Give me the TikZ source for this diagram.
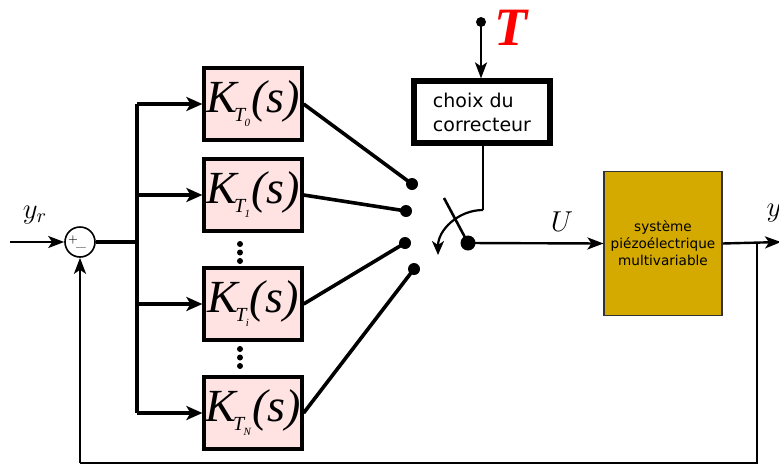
\documentclass[tikz,border=0pt]{standalone}
\usepackage{fontspec}
\setsansfont{DejaVu Sans}
\newfontfamily\tmsfont{Liberation Serif}
\usepackage{tikz}
\usetikzlibrary{arrows.meta, positioning, calc}
\definecolor{blocpink}{HTML}{FFE2E2}
\definecolor{plantgold}{HTML}{D4AA00}
\definecolor{tred}{HTML}{FF0000}
\newcommand{\ktrans}[1]{{\tmsfont\itshape\fontsize{23}{23}\selectfont K\kern-1.5pt\raisebox{-4.5pt}{\fontsize{10}{10}\selectfont T\kern-0.3pt\raisebox{-2.5pt}{\fontsize{5.5}{5.5}\selectfont #1}}\kern0.5pt(s)}}

\begin{document}
\begin{tikzpicture}[x=0.5pt, y=-0.5pt,
    bloc/.style={rectangle, draw=black, line width=1.6pt, fill=blocpink,
                 minimum width=49pt, minimum height=36pt, inner sep=0pt},
    contact/.style={circle, fill=black, inner sep=0pt, minimum size=#1},
    sig/.style={line width=1.2pt, -{Stealth[length=8pt, width=6pt, inset=2pt]}},
    bus/.style={line width=2pt},
    busarrow/.style={line width=2pt, -{Stealth[length=8pt, width=7pt, inset=2pt]}},
    wire/.style={line width=1.8pt}
]
\useasboundingbox (0,0) rectangle (779,466);

\node[circle, draw, line width=0.8pt, minimum size=15pt, inner sep=0pt] (sum) at (80,242) {};
\node[font=\fontsize{5}{5}\selectfont] at (73,240) {+};
\node[font=\fontsize{5}{5}\selectfont] at (81,247) {\_};
\node[font=\Large] (yr) at (35,215) {$y_r$};
\coordinate (in) at (10,242);
\draw[sig] (in) -- (sum.west);

\node[bloc] (k0) at (253,104) {\ktrans{0}};
\node[bloc] (k1) at (253,195) {\ktrans{1}};
\node[bloc] (ki) at (253,304) {\ktrans{i}};
\node[bloc] (kn) at (253,413) {\ktrans{N}};

\coordinate (bustop) at (137,104);
\coordinate (busmid) at (137,242);
\coordinate (busbot) at (137,413);
\draw[bus] (sum.east) -- (busmid);
\draw[bus] (bustop) -- (busbot);
\draw[busarrow] (bustop) -- (k0.west);
\draw[busarrow] (137,195) -- (k1.west);
\draw[busarrow] (137,304) -- (ki.west);
\draw[busarrow] (busbot) -- (kn.west);

\foreach \y in {244,252.5,261,349,357.5,366}
  \fill (240,\y) circle (1.5pt);

\node[contact=6pt] (c0) at (412,184) {};
\node[contact=6pt] (c1) at (406,211) {};
\node[contact=6pt] (c2) at (405,243) {};
\node[contact=6pt] (c3) at (414,269) {};
\draw[wire] (k0.east) -- (c0.center);
\draw[wire] (k1.east) -- (c1.center);
\draw[wire] (ki.east) -- (c2.center);
\draw[wire] (kn.east) -- (c3.center);

\node[contact=7.5pt] (pivot) at (468,243) {};
\coordinate (blade) at (444,198);
\draw[line width=1.3pt] (pivot.center) -- (blade);

\node[rectangle, draw=black, line width=2.6pt, minimum width=68pt, minimum height=31pt,
      align=left, font=\sffamily\fontsize{9.5}{12}\selectfont] (choix) at (482,112) {choix du\\correcteur};
\node[contact=5pt] (tsrc) at (481,22) {};
\node[text=tred, font=\tmsfont\bfseries\itshape\fontsize{27}{27}\selectfont] (tlab) at (511,28) {T};
\draw[sig] (tsrc.center) -- (choix.north -| tsrc);
\coordinate (sel) at (483,210);
\draw[line width=1.1pt] (choix.south -| sel) -- (sel);
\draw[line width=1.1pt, -{Stealth[length=7pt, width=6pt, inset=2pt]}] (sel) arc[start angle=90, end angle=180, radius=22.5pt];

\node[rectangle, draw=black!80, line width=0.6pt, fill=plantgold, minimum width=58pt,
      minimum height=72pt, align=center, font=\sffamily\fontsize{6.8}{8.5}\selectfont] (plant) at (663,243.5)
      {système\\piézoélectrique\\multivariable};
\draw[sig] (pivot.center) -- (plant.west);
\node[font=\Large] (ulab) at (562,222) {$U$};

\coordinate (out) at (781,242);
\coordinate (tap) at (757,242);
\coordinate (fb1) at (757,463);
\coordinate (fb2) at (80,463);
\draw[sig] (plant.east) -- (out);
\node[font=\Large] (ylab) at (774,213) {$y$};
\draw[line width=1.2pt] (tap) -- (fb1) -- (fb2);
\draw[sig] (fb2) -- (sum.south);
\end{tikzpicture}
\end{document}
